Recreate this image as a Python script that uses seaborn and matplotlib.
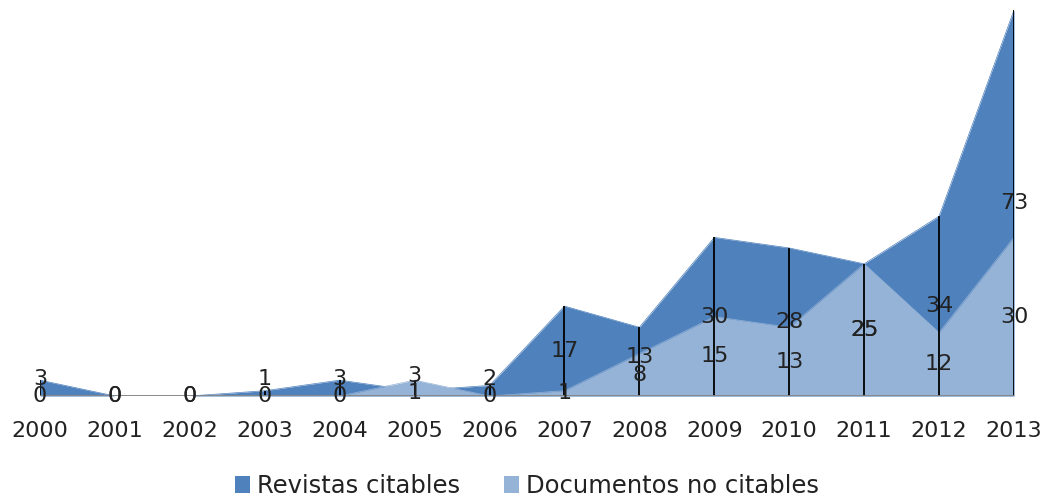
import matplotlib
matplotlib.use("Agg")
import matplotlib.pyplot as plt
import seaborn as sns
import numpy as np
import pandas as pd
from matplotlib.patches import Patch

years = ["2000", "2001", "2002", "2003", "2004", "2005", "2006",
         "2007", "2008", "2009", "2010", "2011", "2012", "2013"]
revistas_citables = [3, 0, 0, 1, 3, 1, 2, 17, 13, 30, 28, 25, 34, 73]
documentos_no_citables = [0, 0, 0, 0, 0, 3, 0, 1, 8, 15, 13, 25, 12, 30]

dark = "#4F81BD"
light = "#95B3D7"
txt = "#222222"

sns.set_theme(style="white")
plt.rcParams['font.family'] = ['DejaVu Sans']

fig = plt.figure(figsize=(10.48, 4.99), dpi=100)
ax = fig.add_axes([40/1048, 103/499, 974/1048, 386/499])

x = np.arange(len(years))
df = pd.DataFrame({"x": x, "rev": revistas_citables, "doc": documentos_no_citables})

ax.fill_between(df["x"], 0, df["rev"], color=dark, linewidth=0, zorder=1)
sns.lineplot(data=df, x="x", y="rev", color=dark, linewidth=0.5, ax=ax, zorder=1)
ax.fill_between(df["x"], 0, df["doc"], color=light, linewidth=0, zorder=2)
sns.lineplot(data=df, x="x", y="doc", color=light, linewidth=0.5, ax=ax, zorder=2)

tops = np.maximum(df["rev"], df["doc"])
ax.vlines(df["x"], 0, tops, color="black", linewidth=1.3, zorder=3)

# labels at mid-height; push the upper one up when the two would collide
min_gap = 3.3
for xi, r, d in zip(x, revistas_citables, documentos_no_citables):
    yr, yd = r / 2, d / 2
    if r != d:
        if r > d and yr - yd < min_gap:
            yr = yd + min_gap
        elif d > r and yd - yr < min_gap:
            yd = yr + min_gap
    ax.text(xi, yr, str(r), ha="center", va="center", fontsize=16, color=txt, zorder=4)
    ax.text(xi, yd, str(d), ha="center", va="center", fontsize=16, color=txt, zorder=4)

ax.axhline(0, color="#868686", linewidth=1.3, zorder=3)

ax.set_xlim(0, len(years) - 1)
ax.set_ylim(0, 73)
ax.set_xticks(x)
ax.set_xticklabels(years, fontsize=16, color=txt)
ax.set_yticks([])
ax.tick_params(axis="x", length=0, pad=18)
ax.set_xlabel("")
ax.set_ylabel("")
for s in ax.spines.values():
    s.set_visible(False)
ax.patch.set_alpha(0)

handles = [Patch(facecolor=dark, edgecolor="none"), Patch(facecolor=light, edgecolor="none")]
fig.legend(handles, ["Revistas citables", "Documentos no citables"],
           loc="center", bbox_to_anchor=(527/1048, 1 - 486/499), ncol=2, frameon=False,
           fontsize=17.5, handlelength=0.6, handleheight=0.7, handletextpad=0.3,
           columnspacing=1.8, labelcolor=txt)

fig.savefig("out.png", dpi=100)
